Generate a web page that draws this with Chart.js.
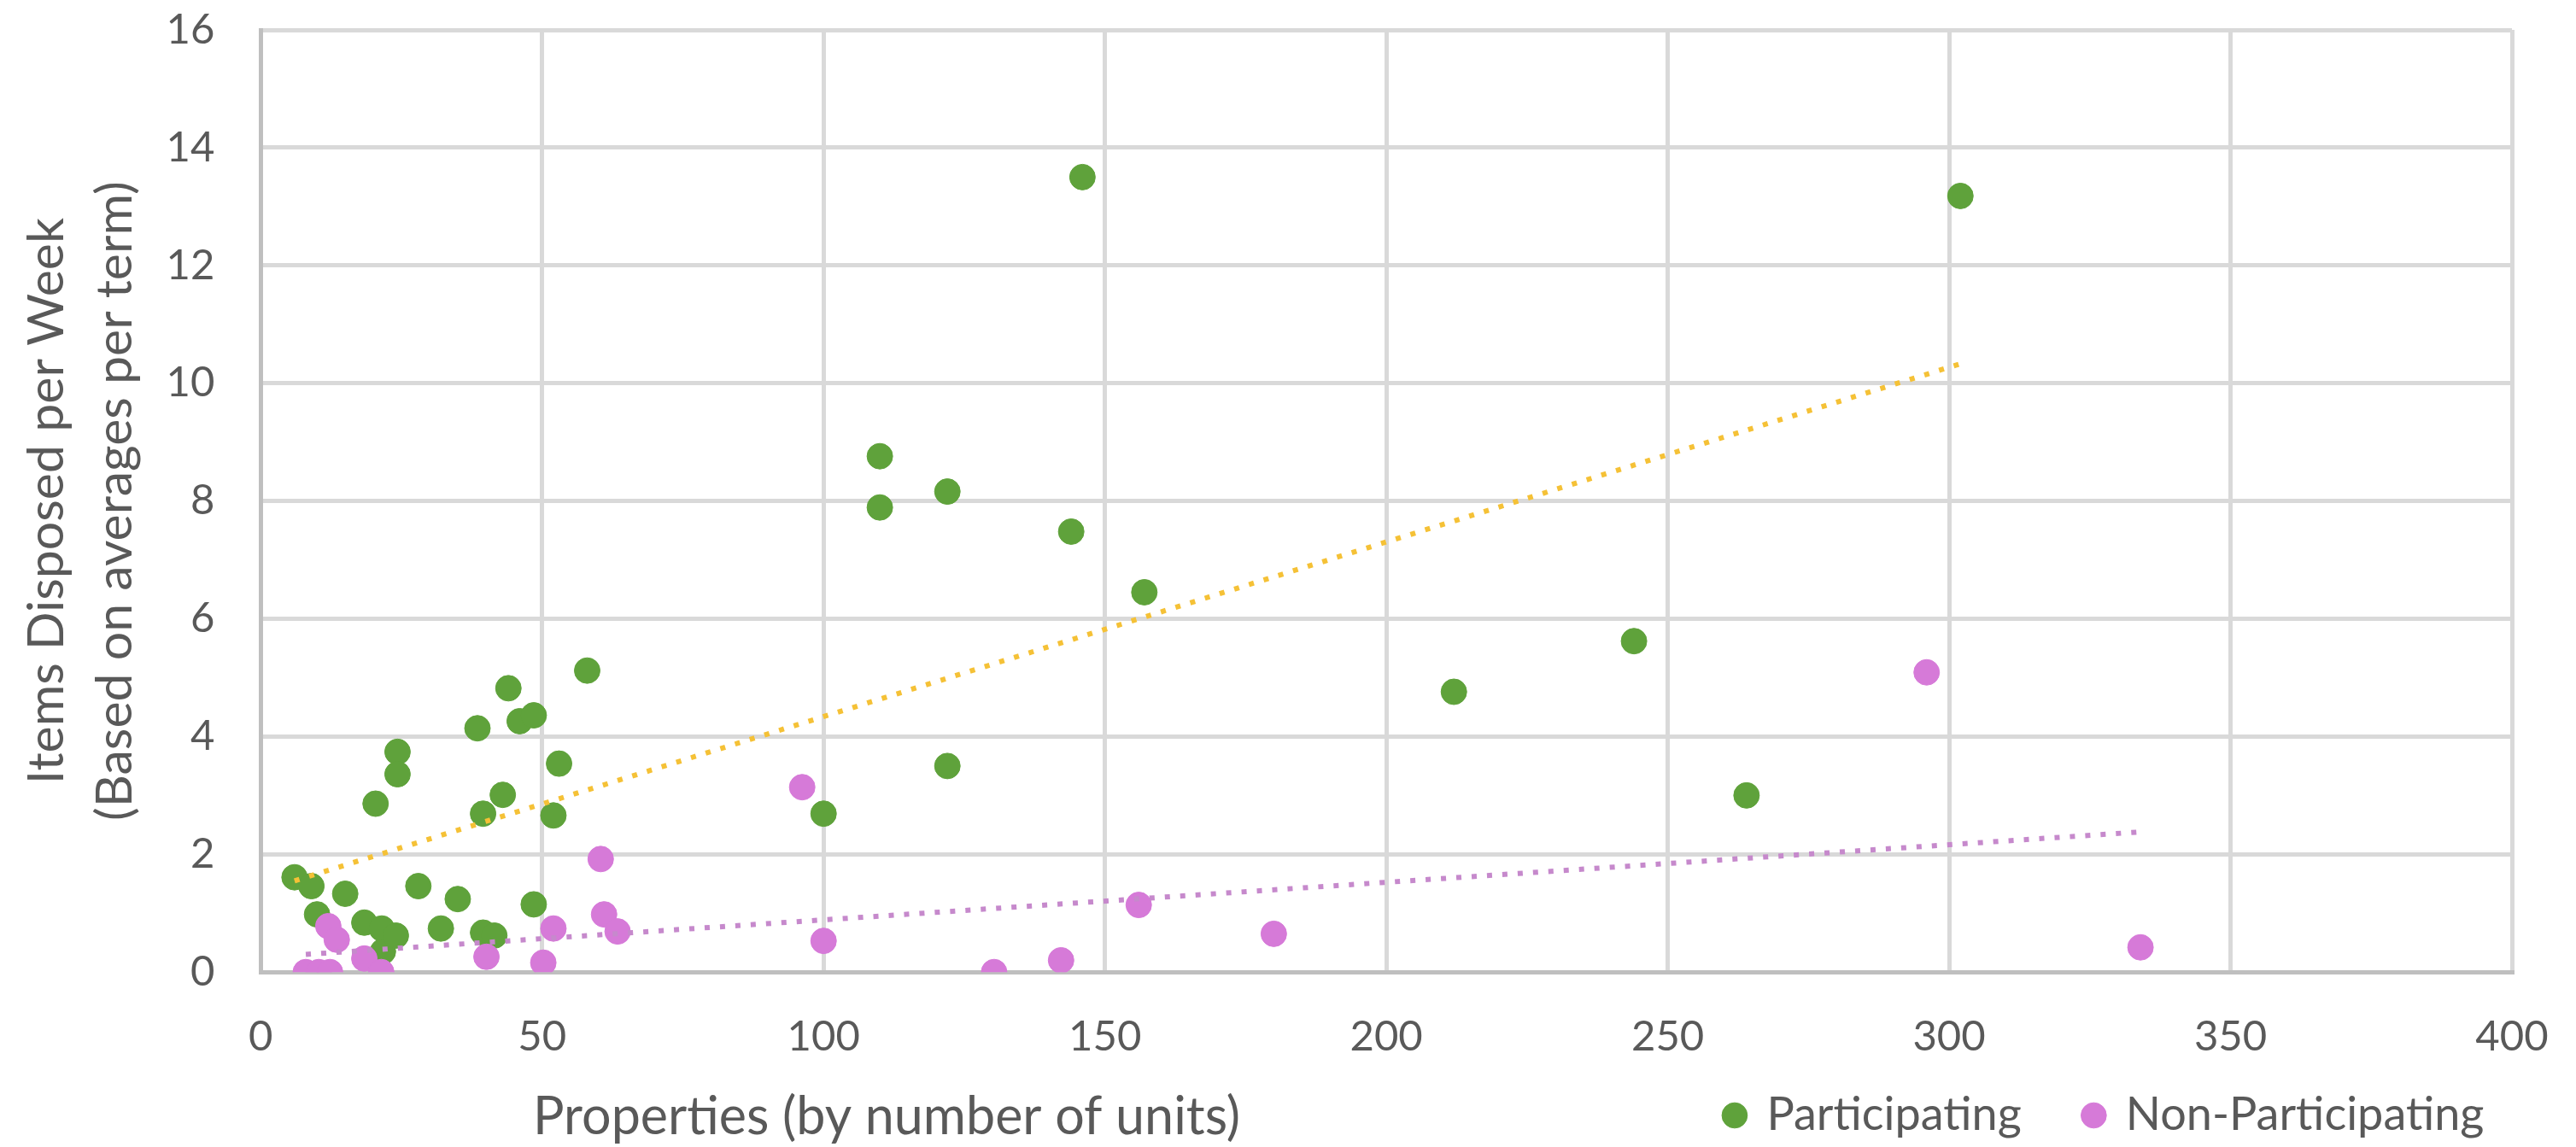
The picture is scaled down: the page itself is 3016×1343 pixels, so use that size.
<!DOCTYPE html>
<html lang="en">
<head>
    <meta charset="UTF-8">
    <title>Items Disposed per Week vs Properties</title>
    <script src="https://cdn.jsdelivr.net/npm/chart.js"></script>
    <style>
        html, body {
            margin: 0;
            padding: 0;
            background: #ffffff;
        }
        #chartContainer {
            width: 3016px;
            height: 1343px;
        }
    </style>
</head>
<body>
    <div id="chartContainer">
        <canvas id="disposalChart"></canvas>
    </div>

    <script>
        // Participating properties (units, items per week)
        var participatingUnits = [6, 9, 10, 15, 18.4, 20.4, 21.5, 21.7, 24, 24.3, 24.3, 28, 32, 35, 38.5, 39.5, 39.5, 41.5, 43, 44,
                                  46, 48.5, 48.5, 52, 53, 58, 100, 110, 110, 122, 122, 144, 146, 157, 212, 244, 264, 302];
        var participatingItems = [1.61, 1.46, 0.98, 1.33, 0.84, 2.86, 0.74, 0.35, 0.62, 3.74, 3.36, 1.46, 0.74, 1.24, 4.14, 2.69, 0.67, 0.62, 3.01, 4.82,
                                  4.26, 4.36, 1.15, 2.66, 3.54, 5.12, 2.69, 8.76, 7.89, 8.16, 3.50, 7.48, 13.5, 6.45, 4.76, 5.62, 3.0, 13.18];

        // Non-participating properties
        var nonParticipatingUnits = [8, 10.3, 12.3, 12, 13.5, 18.4, 21.4, 40.1, 50.2, 52, 61, 60.4, 63.4, 96.2, 100, 130.3, 142.2, 156, 180, 296, 334];
        var nonParticipatingItems = [0, 0, 0, 0.78, 0.55, 0.23, 0, 0.26, 0.16, 0.74, 0.98, 1.92, 0.69, 3.14, 0.53, 0, 0.2, 1.14, 0.65, 5.09, 0.42];

        // Linear trendline end points
        var participatingTrendX = [6, 302];
        var participatingTrendY = [1.55, 10.33];
        var nonParticipatingTrendX = [8, 334];
        var nonParticipatingTrendY = [0.30, 2.38];

        // Axis ticks
        var xTicks = [0, 50, 100, 150, 200, 250, 300, 350, 400];
        var yTicks = [0, 2, 4, 6, 8, 10, 12, 14, 16];

        var xAxisTitle = 'Properties (by number of units)';
        var yAxisTitle = ['Items Disposed per Week', '(Based on averages per term)'];

        function toPoints(xs, ys) {
            return xs.map(function(x, i) {
                return { x: x, y: ys[i] };
            });
        }

        var textColor = '#595959';
        var gridColor = '#d9d9d9';
        var axisColor = '#bfbfbf';
        var fontFamily = 'Lato, "Open Sans", sans-serif';

        // x-axis title sits left of centre, on the same row as the legend
        var xTitlePlugin = {
            id: 'xTitle',
            afterDraw: function(chart) {
                var ctx = chart.ctx;
                var area = chart.chartArea;
                ctx.save();
                ctx.font = '61px ' + fontFamily;
                ctx.fillStyle = textColor;
                ctx.textAlign = 'center';
                ctx.textBaseline = 'middle';
                ctx.fillText(xAxisTitle, area.left + (area.right - area.left) * 0.278, 1308);
                ctx.restore();
            }
        };

        var ctx = document.getElementById('disposalChart').getContext('2d');
        var disposalChart = new Chart(ctx, {
            type: 'scatter',
            data: {
                datasets: [
                    {
                        label: 'Participating',
                        data: toPoints(participatingUnits, participatingItems),
                        backgroundColor: '#5fa23b',
                        borderColor: '#5fa23b',
                        pointRadius: 15,
                        pointHoverRadius: 15,
                        order: 2
                    },
                    {
                        label: 'Non-Participating',
                        data: toPoints(nonParticipatingUnits, nonParticipatingItems),
                        backgroundColor: '#d67ad8',
                        borderColor: '#d67ad8',
                        pointRadius: 15,
                        pointHoverRadius: 15,
                        order: 1
                    },
                    {
                        label: 'Participating trend',
                        data: toPoints(participatingTrendX, participatingTrendY),
                        showLine: true,
                        borderColor: '#f5c136',
                        borderWidth: 6,
                        borderDash: [6, 12],
                        pointRadius: 0,
                        order: 0
                    },
                    {
                        label: 'Non-Participating trend',
                        data: toPoints(nonParticipatingTrendX, nonParticipatingTrendY),
                        showLine: true,
                        borderColor: '#c689cc',
                        borderWidth: 6,
                        borderDash: [6, 12],
                        pointRadius: 0,
                        order: 0
                    }
                ]
            },
            options: {
                responsive: true,
                maintainAspectRatio: false,
                animation: false,
                devicePixelRatio: 1,
                layout: {
                    padding: { top: 35, right: 75, left: 2, bottom: 0 }
                },
                scales: {
                    x: {
                        type: 'linear',
                        min: xTicks[0],
                        max: xTicks[xTicks.length - 1],
                        afterBuildTicks: function(axis) {
                            axis.ticks = xTicks.map(function(v) { return { value: v }; });
                        },
                        grid: { color: gridColor, lineWidth: 5, drawTicks: true, tickLength: 17, tickColor: 'rgba(0,0,0,0)' },
                        border: { color: axisColor, width: 5 },
                        ticks: {
                            color: textColor,
                            font: { family: fontFamily, size: 49 },
                            padding: 30,
                            maxRotation: 0
                        }
                    },
                    y: {
                        type: 'linear',
                        min: yTicks[0],
                        max: yTicks[yTicks.length - 1],
                        afterBuildTicks: function(axis) {
                            axis.ticks = yTicks.map(function(v) { return { value: v }; });
                        },
                        grid: { color: gridColor, lineWidth: 5, drawTicks: true, tickLength: 50, tickColor: 'rgba(0,0,0,0)' },
                        border: { color: axisColor, width: 5 },
                        ticks: {
                            color: textColor,
                            font: { family: fontFamily, size: 49 },
                            padding: 4
                        },
                        title: {
                            display: true,
                            text: yAxisTitle,
                            color: textColor,
                            font: { family: fontFamily, size: 59, lineHeight: 1.36 },
                            padding: { top: 13, bottom: 15 }
                        }
                    }
                },
                plugins: {
                    tooltip: { enabled: false },
                    legend: {
                        position: 'bottom',
                        align: 'end',
                        labels: {
                            usePointStyle: true,
                            pointStyle: 'circle',
                            boxWidth: 21,
                            boxHeight: 21,
                            padding: 5,
                            color: textColor,
                            font: { family: fontFamily, size: 54 },
                            generateLabels: function(chart) {
                                var items = Chart.defaults.plugins.legend.labels.generateLabels(chart)
                                    .filter(function(item) { return item.datasetIndex < 2; });
                                items.sort(function(a, b) { return a.datasetIndex - b.datasetIndex; });
                                items[0].text = items[0].text + '\u00A0\u00A0\u00A0\u00A0\u00A0';
                                items[1].text = items[1].text + '\u00A0\u00A0';
                                return items;
                            }
                        }
                    }
                }
            },
            plugins: [xTitlePlugin]
        });
    </script>
</body>
</html>
